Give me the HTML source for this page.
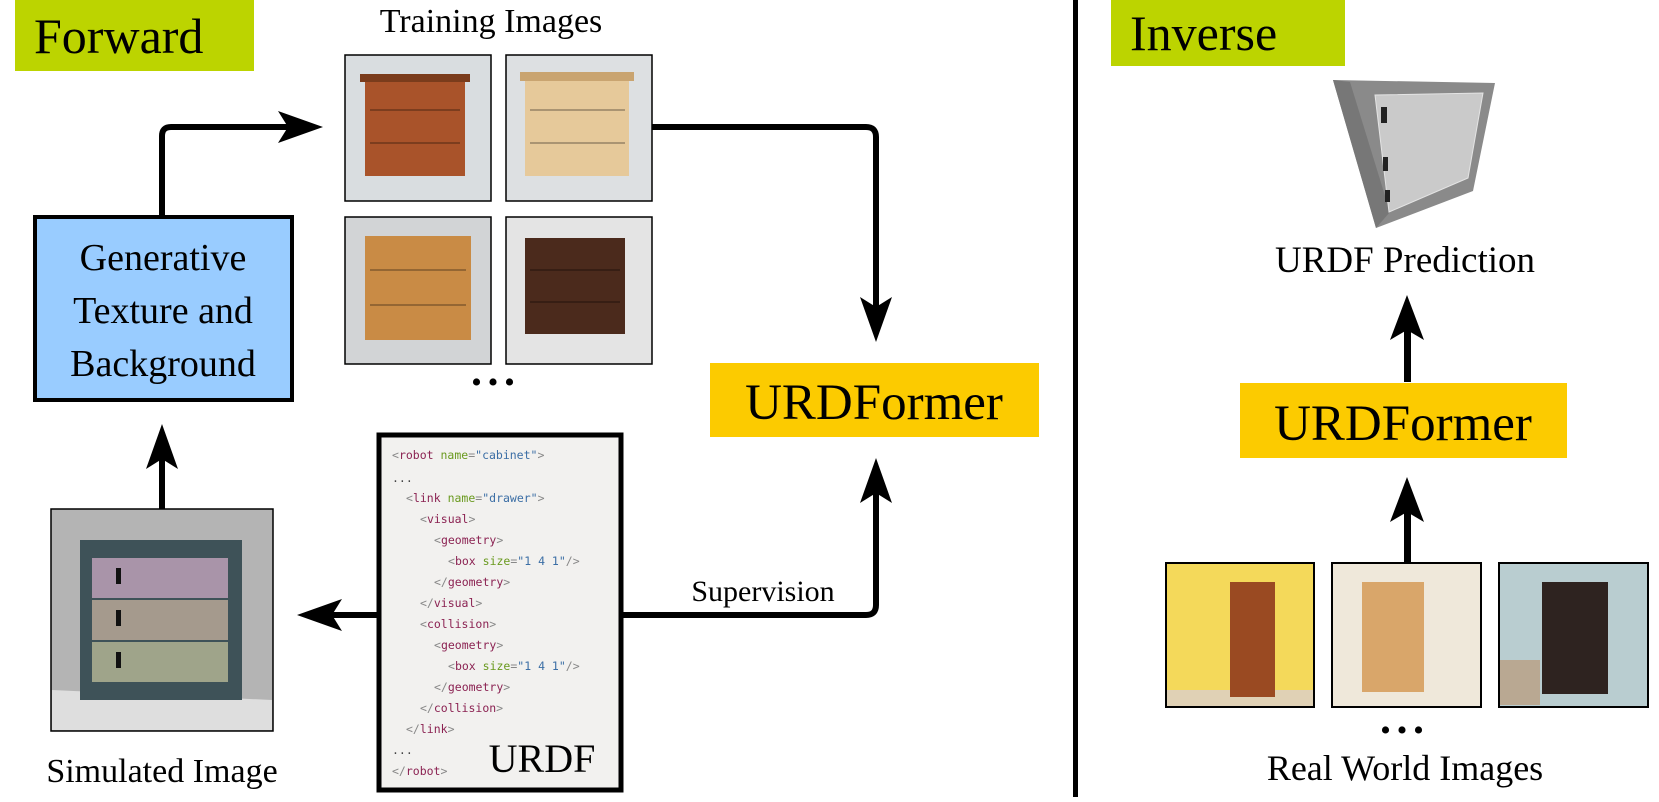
<!DOCTYPE html>
<html><head><meta charset="utf-8"><style>
body{margin:0;background:#fff}
svg text{font-family:"Liberation Serif",serif}
svg .code text{font-family:"DejaVu Sans Mono","Liberation Mono",monospace;font-size:11.5px}
</style></head><body>
<svg width="1659" height="797" viewBox="0 0 1659 797" xmlns="http://www.w3.org/2000/svg">
<rect width="1659" height="797" fill="#fff"/>
<!-- Forward -->
<rect x="15" y="0" width="239" height="71" fill="#bcd400"/>
<text x="34" y="53" font-size="50">Forward</text>
<text x="491" y="32" font-size="34" text-anchor="middle">Training Images</text>

<!-- training images -->
<g stroke="#000" stroke-width="1.5">
<rect x="345" y="55" width="146" height="146" fill="#d9dde0"/>
<rect x="506" y="55" width="146" height="146" fill="#dde0e2"/>
<rect x="345" y="217" width="146" height="147" fill="#d2d4d6"/>
<rect x="506" y="217" width="146" height="147" fill="#e4e4e4"/>
</g>
<rect x="365" y="78" width="100" height="98" fill="#a9532a"/>
<rect x="360" y="74" width="110" height="8" fill="#7a3c1c"/>
<rect x="525" y="78" width="104" height="98" fill="#e6c99a"/>
<rect x="520" y="72" width="114" height="9" fill="#c9a470"/>
<rect x="365" y="236" width="106" height="104" fill="#c98b45"/>
<rect x="525" y="238" width="100" height="96" fill="#4b2a1c"/>
<g stroke="#000" stroke-opacity=".35" stroke-width="1.5" fill="none">
<path d="M370 110H460M370 143H460M530 110H625M530 143H625M370 270H466M370 305H466M530 270H620M530 302H620"/>
</g>
<text x="496" y="392" font-size="30" text-anchor="middle" letter-spacing="6">•••</text>

<!-- generative -->
<rect x="35" y="217" width="257" height="183" fill="#99ccff" stroke="#000" stroke-width="4"/>
<text x="163" y="270" font-size="38" text-anchor="middle">Generative</text>
<text x="163" y="323" font-size="38" text-anchor="middle">Texture and</text>
<text x="163" y="376" font-size="38" text-anchor="middle">Background</text>

<!-- arrows -->
<g fill="none" stroke="#000" stroke-width="6" stroke-linejoin="round">
<path d="M162 217V136Q162 127 171 127H300"/>
<path d="M652 127H866Q876 127 876 137V320"/>
<path d="M621 615H866Q876 615 876 605V480"/>
<path d="M379 615H320"/>
<path d="M162 509V446"/>
</g>
<g fill="#000">
<path d="M323 127L278 111L288 127L278 143Z"/>
<path d="M876 342L860 297L876 307L892 297Z"/>
<path d="M876 458L860 503L876 493L892 503Z"/>
<path d="M297 615L342 599L332 615L342 631Z"/>
<path d="M162 424L146 469L162 459L178 469Z"/>
</g>
<text x="763" y="601" font-size="30" text-anchor="middle">Supervision</text>

<!-- URDFormer left -->
<rect x="710" y="363" width="329" height="74" fill="#fccb00"/>
<text x="874" y="419" font-size="51" text-anchor="middle">URDFormer</text>

<!-- simulated image -->
<rect x="51" y="509" width="222" height="222" fill="#b4b4b4" stroke="#000" stroke-width="1.5"/>
<path d="M52 690L272 700V730H52Z" fill="#dedede"/>
<rect x="80" y="540" width="162" height="160" fill="#3e5258"/>
<rect x="92" y="558" width="136" height="40" fill="#a994a9"/>
<rect x="92" y="600" width="136" height="40" fill="#a59a8d"/>
<rect x="92" y="642" width="136" height="40" fill="#9fa48a"/>
<rect x="116" y="568" width="5" height="16" fill="#111"/>
<rect x="116" y="610" width="5" height="16" fill="#111"/>
<rect x="116" y="652" width="5" height="16" fill="#111"/>
<text x="162" y="782" font-size="34" text-anchor="middle">Simulated Image</text>

<!-- URDF code -->
<rect x="379" y="435" width="242" height="355" fill="#f2f1ef" stroke="#000" stroke-width="5"/>
<g class="code">
<text x="392" y="459" fill="#888">&lt;<tspan fill="#8b2252">robot</tspan> <tspan fill="#6a9a1f">name</tspan>=<tspan fill="#3b6ea5">"cabinet"</tspan>&gt;</text>
<text x="392" y="482" fill="#444">...</text>
<text x="406" y="502" fill="#888">&lt;<tspan fill="#8b2252">link</tspan> <tspan fill="#6a9a1f">name</tspan>=<tspan fill="#3b6ea5">"drawer"</tspan>&gt;</text>
<text x="420" y="523" fill="#888">&lt;<tspan fill="#8b2252">visual</tspan>&gt;</text>
<text x="434" y="544" fill="#888">&lt;<tspan fill="#8b2252">geometry</tspan>&gt;</text>
<text x="448" y="565" fill="#888">&lt;<tspan fill="#8b2252">box</tspan> <tspan fill="#6a9a1f">size</tspan>=<tspan fill="#3b6ea5">"1 4 1"</tspan>/&gt;</text>
<text x="434" y="586" fill="#888">&lt;/<tspan fill="#8b2252">geometry</tspan>&gt;</text>
<text x="420" y="607" fill="#888">&lt;/<tspan fill="#8b2252">visual</tspan>&gt;</text>
<text x="420" y="628" fill="#888">&lt;<tspan fill="#8b2252">collision</tspan>&gt;</text>
<text x="434" y="649" fill="#888">&lt;<tspan fill="#8b2252">geometry</tspan>&gt;</text>
<text x="448" y="670" fill="#888">&lt;<tspan fill="#8b2252">box</tspan> <tspan fill="#6a9a1f">size</tspan>=<tspan fill="#3b6ea5">"1 4 1"</tspan>/&gt;</text>
<text x="434" y="691" fill="#888">&lt;/<tspan fill="#8b2252">geometry</tspan>&gt;</text>
<text x="420" y="712" fill="#888">&lt;/<tspan fill="#8b2252">collision</tspan>&gt;</text>
<text x="406" y="733" fill="#888">&lt;/<tspan fill="#8b2252">link</tspan>&gt;</text>
<text x="392" y="754" fill="#444">...</text>
<text x="392" y="775" fill="#888">&lt;/<tspan fill="#8b2252">robot</tspan>&gt;</text>
</g>
<text x="542" y="772" font-size="40" text-anchor="middle">URDF</text>

<!-- divider -->
<rect x="1073" y="0" width="5" height="797" fill="#000"/>

<!-- Inverse -->
<rect x="1111" y="0" width="234" height="66" fill="#bcd400"/>
<text x="1130" y="50" font-size="50">Inverse</text>
<path d="M1333 80L1495 83L1473 191L1376 228Z" fill="#8a8a8a"/>
<path d="M1333 80L1350 82L1390 212L1376 228Z" fill="#777"/>
<path d="M1375 95L1483 93L1468 178L1389 212Z" fill="#cacaca" stroke="#e4e4e4"/>
<rect x="1381" y="107" width="6" height="16" fill="#222"/>
<rect x="1383" y="157" width="5" height="14" fill="#222"/>
<rect x="1385" y="190" width="5" height="12" fill="#222"/>
<text x="1405" y="272" font-size="37" text-anchor="middle">URDF Prediction</text>
<rect x="1404" y="320" width="7" height="62" fill="#000"/>
<path d="M1407 295L1390 340L1407 330L1424 340Z"/>
<rect x="1240" y="383" width="327" height="75" fill="#fccb00"/>
<text x="1403" y="440" font-size="51" text-anchor="middle">URDFormer</text>
<rect x="1404" y="500" width="7" height="64" fill="#000"/>
<path d="M1407 477L1390 522L1407 512L1424 522Z"/>

<!-- real photos -->
<g stroke="#000" stroke-width="2">
<rect x="1166" y="563" width="148" height="144" fill="#f4d95a"/>
<rect x="1332" y="563" width="149" height="144" fill="#efe8da"/>
<rect x="1499" y="563" width="149" height="144" fill="#b9cdd0"/>
</g>
<rect x="1167" y="690" width="146" height="16" fill="#e0d1b5"/>
<rect x="1230" y="582" width="45" height="115" fill="#9a4a22"/>
<rect x="1362" y="582" width="62" height="110" fill="#d9a66a"/>
<rect x="1542" y="582" width="66" height="112" fill="#2e2320"/>
<rect x="1500" y="660" width="40" height="45" fill="#b9a892"/>
<text x="1405" y="740" font-size="30" text-anchor="middle" letter-spacing="6">•••</text>
<text x="1405" y="780" font-size="36" text-anchor="middle">Real World Images</text>
</svg>
</body></html>
